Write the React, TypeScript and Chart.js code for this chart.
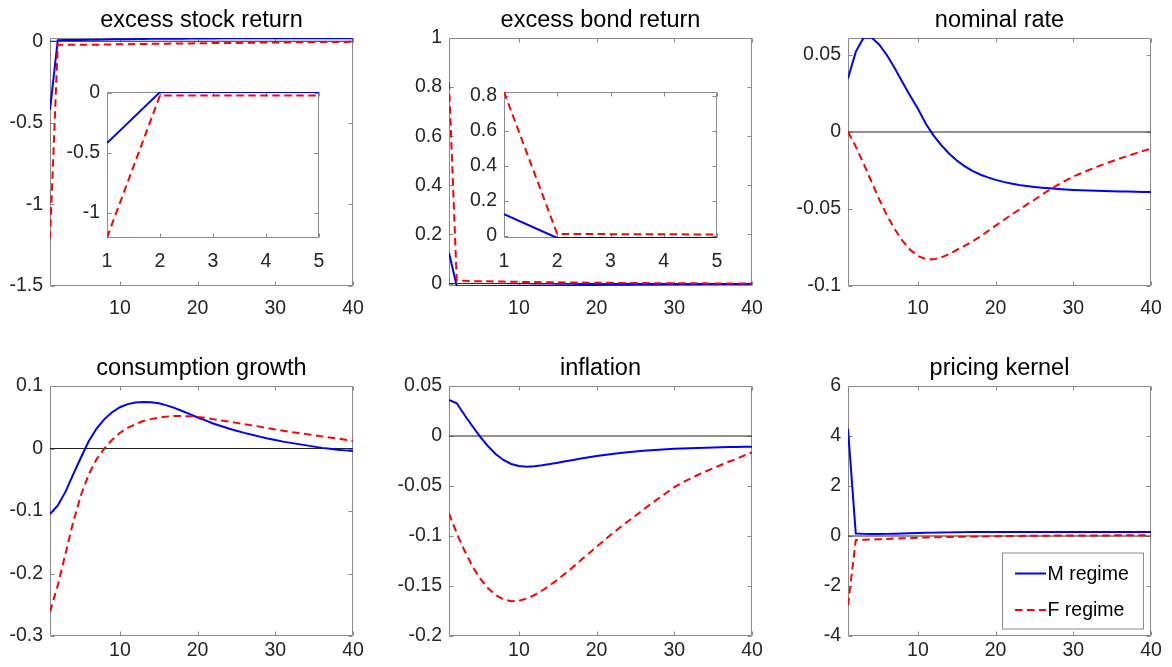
import React, { useEffect, useRef } from "react";
import { Chart, registerables } from "chart.js";

Chart.register(...registerables);

// ---------------- data ----------------
const horizon = [1, 2, 3, 4, 5, 6, 7, 8, 9, 10, 11, 12, 13, 14, 15, 16, 17, 18, 19, 20,
  21, 22, 23, 24, 25, 26, 27, 28, 29, 30, 31, 32, 33, 34, 35, 36, 37, 38, 39, 40];
const insetHorizon = [1, 2, 3, 4, 5];

const seriesNames = ["M regime", "F regime"];
const titles = ["excess stock return", "excess bond return", "nominal rate",
  "consumption growth", "inflation", "pricing kernel"];

const stockM = [-0.42, 0.006, 0.007, 0.008, 0.008, 0.009, 0.010, 0.011, 0.012, 0.013,
  0.013, 0.014, 0.014, 0.015, 0.015, 0.016, 0.016, 0.016, 0.017, 0.017,
  0.017, 0.017, 0.018, 0.018, 0.018, 0.018, 0.018, 0.018, 0.018, 0.018,
  0.018, 0.018, 0.018, 0.018, 0.018, 0.018, 0.018, 0.018, 0.018, 0.018];
const stockF = [-1.21, -0.022, -0.022, -0.022, -0.022, -0.021, -0.021, -0.020, -0.019, -0.018,
  -0.018, -0.017, -0.017, -0.016, -0.016, -0.015, -0.014, -0.014, -0.013, -0.012,
  -0.012, -0.011, -0.011, -0.010, -0.010, -0.009, -0.009, -0.008, -0.008, -0.007,
  -0.007, -0.006, -0.006, -0.006, -0.005, -0.005, -0.004, -0.004, -0.004, -0.003];

const bondM = [0.125, -0.011, -0.011, -0.011, -0.011, -0.010, -0.010, -0.010, -0.009, -0.009,
  -0.009, -0.008, -0.008, -0.008, -0.007, -0.007, -0.007, -0.006, -0.006, -0.006,
  -0.005, -0.005, -0.005, -0.005, -0.004, -0.004, -0.004, -0.004, -0.003, -0.003,
  -0.003, -0.003, -0.003, -0.002, -0.002, -0.002, -0.002, -0.002, -0.002, -0.001];
const bondF = [0.82, 0.012, 0.011, 0.010, 0.009, 0.009, 0.008, 0.008, 0.007, 0.007,
  0.006, 0.006, 0.005, 0.005, 0.005, 0.004, 0.004, 0.004, 0.003, 0.003,
  0.003, 0.003, 0.002, 0.002, 0.002, 0.002, 0.002, 0.001, 0.001, 0.001,
  0.001, 0.001, 0.001, 0.001, 0.000, 0.000, 0.000, 0.000, 0.000, 0.000];

const rateM = [0.0348, 0.052, 0.0612, 0.0614, 0.0568, 0.050, 0.0415, 0.0325, 0.0235, 0.0150,
  0.0055, -0.0022, -0.0085, -0.0140, -0.0185, -0.0222, -0.0252, -0.0276, -0.0295, -0.0311,
  -0.0324, -0.0335, -0.0344, -0.0351, -0.0357, -0.0362, -0.0366, -0.0370, -0.0373, -0.0376,
  -0.0378, -0.0380, -0.0382, -0.0384, -0.0385, -0.0386, -0.0387, -0.0388, -0.0389, -0.0390];
const rateF = [0, -0.0095, -0.0205, -0.0320, -0.0435, -0.0540, -0.0630, -0.0705, -0.0765, -0.0805,
  -0.0825, -0.0827, -0.0815, -0.0793, -0.0765, -0.0740, -0.0711, -0.0679, -0.0644, -0.0608,
  -0.0573, -0.0539, -0.0505, -0.0472, -0.0440, -0.0406, -0.0374, -0.0344, -0.0316, -0.0290,
  -0.0268, -0.0247, -0.0227, -0.0208, -0.0190, -0.0172, -0.0155, -0.0139, -0.0123, -0.0108];

const consM = [-0.105, -0.091, -0.069, -0.041, -0.014, 0.012, 0.032, 0.047, 0.058, 0.066,
  0.071, 0.0735, 0.0745, 0.074, 0.0725, 0.069, 0.065, 0.060, 0.055, 0.0496,
  0.045, 0.040, 0.036, 0.032, 0.0285, 0.025, 0.022, 0.019, 0.016, 0.0135,
  0.011, 0.009, 0.007, 0.005, 0.003, 0.001, -0.0005, -0.002, -0.003, -0.004];
const consF = [-0.261, -0.219, -0.168, -0.117, -0.074, -0.041, -0.017, 0.000, 0.014, 0.025,
  0.033, 0.039, 0.044, 0.047, 0.0495, 0.051, 0.052, 0.052, 0.0515, 0.0505,
  0.049, 0.047, 0.045, 0.043, 0.041, 0.039, 0.037, 0.035, 0.0325, 0.0304,
  0.0285, 0.0265, 0.0247, 0.023, 0.0213, 0.0194, 0.0177, 0.016, 0.014, 0.0122];

const inflM = [0.036, 0.0327, 0.021, 0.010, -0.0007, -0.010, -0.018, -0.024, -0.028, -0.030,
  -0.0307, -0.0303, -0.0293, -0.0281, -0.0267, -0.0253, -0.0239, -0.0226, -0.0213, -0.0200,
  -0.0190, -0.0180, -0.0171, -0.0162, -0.0155, -0.0148, -0.0142, -0.0137, -0.0132, -0.0128,
  -0.0125, -0.0122, -0.0119, -0.0117, -0.0115, -0.0113, -0.0111, -0.0110, -0.0108, -0.0107];
const inflF = [-0.0773, -0.0973, -0.1147, -0.1300, -0.1425, -0.1520, -0.1590, -0.1635, -0.1652, -0.1648,
  -0.1625, -0.1590, -0.1545, -0.1492, -0.1435, -0.1373, -0.1308, -0.1241, -0.1174, -0.1107,
  -0.1042, -0.0978, -0.0915, -0.0855, -0.0797, -0.0737, -0.0679, -0.0623, -0.0568, -0.0512,
  -0.0468, -0.0428, -0.0390, -0.0355, -0.0323, -0.0290, -0.0258, -0.0228, -0.0195, -0.0163];

const kernelM = [4.29, 0.10, 0.085, 0.08, 0.08, 0.085, 0.09, 0.10, 0.11, 0.12,
  0.13, 0.135, 0.14, 0.145, 0.15, 0.155, 0.158, 0.16, 0.162, 0.164,
  0.165, 0.165, 0.165, 0.165, 0.165, 0.165, 0.165, 0.165, 0.165, 0.165,
  0.164, 0.164, 0.163, 0.163, 0.162, 0.162, 0.161, 0.161, 0.160, 0.160];
const kernelF = [-2.77, -0.17, -0.15, -0.14, -0.13, -0.12, -0.10, -0.09, -0.08, -0.07,
  -0.06, -0.05, -0.045, -0.04, -0.035, -0.03, -0.025, -0.02, -0.015, -0.01,
  -0.005, 0.0, 0.003, 0.006, 0.009, 0.012, 0.014, 0.016, 0.018, 0.02,
  0.021, 0.022, 0.023, 0.024, 0.025, 0.026, 0.027, 0.028, 0.029, 0.03];

const xTicksMain = [10, 20, 30, 40];
const xTicksInset = [1, 2, 3, 4, 5];
const yTicksStock = [-1.5, -1, -0.5, 0];
const yTicksStockInset = [-1, -0.5, 0];
const yTicksBond = [0, 0.2, 0.4, 0.6, 0.8, 1];
const yTicksBondInset = [0, 0.2, 0.4, 0.6, 0.8];
const yTicksRate = [-0.1, -0.05, 0, 0.05];
const yTicksCons = [-0.3, -0.2, -0.1, 0, 0.1];
const yTicksInfl = [-0.2, -0.15, -0.1, -0.05, 0, 0.05];
const yTicksKernel = [-4, -2, 0, 2, 4, 6];

// ---------------- layout / style ----------------
const FONT = '"Liberation Sans", Arial, Helvetica, sans-serif';
const TICK_SIZE = 19.5;
const TITLE_SIZE = 23.5;
const BLUE = "#0000ff";
const RED = "#ff0000";
const FRAME = "#8a8a8a";
const DASH = [7.5, 4.5];

type Box = { l: number; t: number; r: number; b: number };
type Spec = {
  id: string;
  title?: string;
  xs: number[];
  m: number[];
  f: number[];
  xRange: [number, number];
  yRange: [number, number];
  xTicks: number[];
  yTicks: number[];
  box: Box;
  inset?: boolean;
  zero?: boolean;
  legend?: boolean;
  xPad: number;
};

const MAIN_M = { l: 80, t: 40, r: 30, b: 44 };
const INSET_M = { l: 50, t: 30, r: 30, b: 40 };

const specs: Spec[] = [
  { id: "p1", title: titles[0], xs: horizon, m: stockM, f: stockF, xRange: [1, 40], yRange: [-1.5, 0.02],
    xTicks: xTicksMain, yTicks: yTicksStock, box: { l: 50, t: 38, r: 353, b: 286 }, zero: true, xPad: 10.5 },
  { id: "p2", title: titles[1], xs: horizon, m: bondM, f: bondF, xRange: [1, 40], yRange: [-0.01, 1],
    xTicks: xTicksMain, yTicks: yTicksBond, box: { l: 449, t: 38, r: 752, b: 286 }, zero: true, xPad: 10.5 },
  { id: "p3", title: titles[2], xs: horizon, m: rateM, f: rateF, xRange: [1, 40], yRange: [-0.1, 0.061],
    xTicks: xTicksMain, yTicks: yTicksRate, box: { l: 848, t: 38, r: 1151, b: 286 }, zero: true, xPad: 10.5 },
  { id: "p4", title: titles[3], xs: horizon, m: consM, f: consF, xRange: [1, 40], yRange: [-0.3, 0.1],
    xTicks: xTicksMain, yTicks: yTicksCons, box: { l: 50, t: 386, r: 353, b: 636 }, zero: true, xPad: 2.5 },
  { id: "p5", title: titles[4], xs: horizon, m: inflM, f: inflF, xRange: [1, 40], yRange: [-0.2, 0.05],
    xTicks: xTicksMain, yTicks: yTicksInfl, box: { l: 449, t: 386, r: 752, b: 636 }, zero: true, xPad: 2.5 },
  { id: "p6", title: titles[5], xs: horizon, m: kernelM, f: kernelF, xRange: [1, 40], yRange: [-4, 6],
    xTicks: xTicksMain, yTicks: yTicksKernel, box: { l: 848, t: 386, r: 1151, b: 636 }, zero: true, legend: true, xPad: 2.5 },
  { id: "i1", xs: insetHorizon, m: stockM.slice(0, 5), f: stockF.slice(0, 5), xRange: [1, 5], yRange: [-1.213, 0.007],
    xTicks: xTicksInset, yTicks: yTicksStockInset, box: { l: 107, t: 92, r: 319, b: 238 }, inset: true, xPad: 11.5 },
  { id: "i2", xs: insetHorizon, m: bondM.slice(0, 5), f: bondF.slice(0, 5), xRange: [1, 5], yRange: [-0.011, 0.82],
    xTicks: xTicksInset, yTicks: yTicksBondInset, box: { l: 504, t: 92, r: 717, b: 238 }, inset: true, xPad: 11.5 },
];

function makeFramePlugin(spec: Spec) {
  return {
    id: "frame_" + spec.id,
    beforeDraw(chart: any) {
      const a = chart.chartArea;
      const ctx = chart.ctx;
      if (spec.inset) {
        ctx.save();
        ctx.fillStyle = "#ffffff";
        ctx.fillRect(a.left, a.top, a.right - a.left, a.bottom - a.top);
        ctx.restore();
      }
    },
    beforeDatasetsDraw(chart: any) {
      const a = chart.chartArea;
      const ctx = chart.ctx;
      const xs = chart.scales.x;
      const ys = chart.scales.y;
      const L = Math.round(a.left) + 0.5;
      const R = Math.round(a.right) - 0.5;
      const T = Math.round(a.top) + 0.5;
      const B = Math.round(a.bottom) - 0.5;
      const tl = 4;
      ctx.save();
      ctx.strokeStyle = FRAME;
      ctx.lineWidth = 1;
      ctx.beginPath();
      ctx.rect(L, T, R - L, B - T);
      for (const t of xs.ticks) {
        const px = Math.round(xs.getPixelForValue(t.value)) + 0.5;
        ctx.moveTo(px, B);
        ctx.lineTo(px, B - tl);
        ctx.moveTo(px, T);
        ctx.lineTo(px, T + tl);
      }
      for (const t of ys.ticks) {
        const py = Math.round(ys.getPixelForValue(t.value)) + 0.5;
        ctx.moveTo(L, py);
        ctx.lineTo(L + tl, py);
        ctx.moveTo(R, py);
        ctx.lineTo(R - tl, py);
      }
      ctx.stroke();
      ctx.restore();
    },
    afterDraw(chart: any) {
      const a = chart.chartArea;
      const ctx = chart.ctx;
      ctx.save();
      if (spec.title) {
        ctx.fillStyle = "#000000";
        ctx.font = `${TITLE_SIZE}px ${FONT}`;
        ctx.textAlign = "center";
        ctx.textBaseline = "alphabetic";
        ctx.fillText(spec.title, (a.left + a.right) / 2, a.top - 11.5);
      }
      if (spec.legend) {
        const w = 142;
        const h = 77;
        const lx = Math.round(a.right) - 7 - w;
        const ly = Math.round(a.top) + 166.5;
        ctx.fillStyle = "#ffffff";
        ctx.fillRect(lx, ly, w, h);
        ctx.strokeStyle = FRAME;
        ctx.lineWidth = 1;
        ctx.strokeRect(lx + 0.5, ly + 0.5, w - 1, h - 1);
        const rows = [
          { label: seriesNames[0], color: BLUE, dash: [] as number[], y: ly + 21 },
          { label: seriesNames[1], color: RED, dash: DASH, y: ly + 57.5 },
        ];
        ctx.font = `${TICK_SIZE}px ${FONT}`;
        ctx.textAlign = "left";
        ctx.textBaseline = "middle";
        for (const r of rows) {
          ctx.beginPath();
          ctx.setLineDash(r.dash);
          ctx.strokeStyle = r.color;
          ctx.lineWidth = 2;
          ctx.moveTo(lx + 13, r.y);
          ctx.lineTo(lx + 44, r.y);
          ctx.stroke();
          ctx.setLineDash([]);
          ctx.fillStyle = "#000000";
          ctx.fillText(r.label, lx + 45.5, r.y + 1);
        }
      }
      ctx.restore();
    },
  };
}

function Panel({ spec }: { spec: Spec }) {
  const ref = useRef<HTMLCanvasElement | null>(null);
  const mg = spec.inset ? INSET_M : MAIN_M;
  const w = spec.box.r - spec.box.l + mg.l + mg.r;
  const h = spec.box.b - spec.box.t + mg.t + mg.b;

  useEffect(() => {
    if (!ref.current) return;
    const datasets: any[] = [
      {
        label: seriesNames[1],
        data: spec.xs.map((x, i) => ({ x, y: spec.f[i] })),
        borderColor: RED,
        borderWidth: 2,
        borderDash: DASH,
        pointRadius: 0,
        tension: 0,
        order: 1,
      },
      {
        label: seriesNames[0],
        data: spec.xs.map((x, i) => ({ x, y: spec.m[i] })),
        borderColor: BLUE,
        borderWidth: 2,
        pointRadius: 0,
        tension: 0,
        order: 2,
      },
    ];
    if (spec.zero) {
      datasets.push({
        label: "zero",
        data: [{ x: spec.xRange[0], y: 0 }, { x: spec.xRange[1], y: 0 }],
        borderColor: "#222222",
        borderWidth: 1,
        pointRadius: 0,
        order: 3,
      });
    }
    const tickFont = { family: FONT, size: TICK_SIZE };
    const chart = new Chart(ref.current, {
      type: "line",
      data: { datasets },
      plugins: [makeFramePlugin(spec)],
      options: {
        responsive: false,
        animation: false,
        devicePixelRatio: 1,
        events: [],
        layout: { padding: { left: 0, top: mg.t, right: mg.r, bottom: 0 } },
        plugins: {
          legend: { display: false },
          tooltip: { enabled: false },
          title: { display: false },
        },
        scales: {
          x: {
            type: "linear",
            min: spec.xRange[0],
            max: spec.xRange[1],
            bounds: "data",
            grid: { display: false, drawTicks: false, tickLength: 0 },
            border: { display: false },
            ticks: {
              font: tickFont,
              color: "#262626",
              padding: spec.xPad,
              maxRotation: 0,
              autoSkip: false,
              callback: (v: any) => String(v),
            },
            afterBuildTicks: (s: any) => {
              s.ticks = spec.xTicks.map((v) => ({ value: v }));
            },
            afterFit: (s: any) => {
              s.height = mg.b;
            },
          },
          y: {
            type: "linear",
            min: spec.yRange[0],
            max: spec.yRange[1],
            bounds: "data",
            grid: { display: false, drawTicks: false, tickLength: 0 },
            border: { display: false },
            ticks: {
              font: tickFont,
              color: "#262626",
              padding: 7,
              autoSkip: false,
              callback: (v: any) => String(v),
            },
            afterBuildTicks: (s: any) => {
              s.ticks = spec.yTicks.map((v) => ({ value: v }));
            },
            afterFit: (s: any) => {
              s.width = mg.l;
            },
          },
        },
      } as any,
    });
    return () => chart.destroy();
  }, []);

  return (
    <canvas
      ref={ref}
      width={w}
      height={h}
      style={{
        position: "absolute",
        left: spec.box.l - mg.l,
        top: spec.box.t - mg.t,
        width: w,
        height: h,
      }}
    />
  );
}

export default function App() {
  return (
    <div
      style={{
        position: "fixed",
        left: 0,
        top: 0,
        width: 1172,
        height: 667,
        background: "#ffffff",
        overflow: "hidden",
      }}
    >
      {specs.map((s) => (
        <Panel key={s.id} spec={s} />
      ))}
    </div>
  );
}
